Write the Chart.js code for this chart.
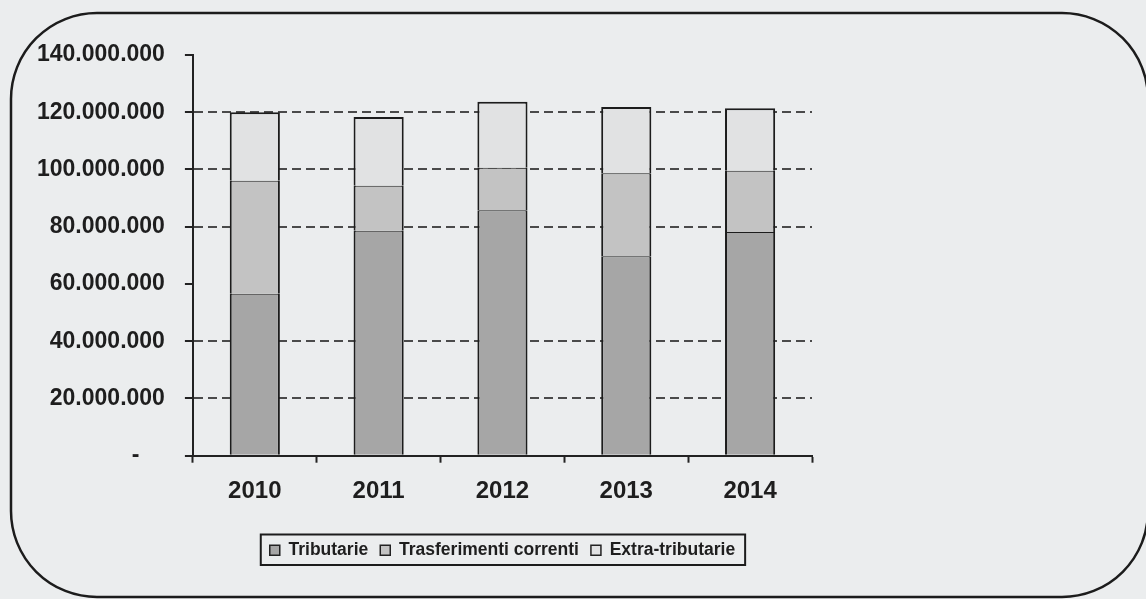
<!DOCTYPE html>
<html>
<head>
<meta charset="utf-8">
<script src="https://cdn.jsdelivr.net/npm/chart.js@4"></script>
<style>
  html, body { margin: 0; padding: 0; background: #ebedee; }
  #wrap { width: 1146px; height: 599px; }
</style>
</head>
<body>
<div id="wrap"><canvas id="chart" width="1146" height="599"></canvas></div>
<script>
const anni = ["2010", "2011", "2012", "2013", "2014"];
const tributarie = [56600000, 78600000, 85800000, 69700000, 78200000];
const trasferimenti = [39500000, 15700000, 14800000, 29000000, 21400000];
const extraTributarie = [23900000, 24000000, 23100000, 23100000, 21800000];
const yTickLabels = ["-    ", "20.000.000", "40.000.000", "60.000.000", "80.000.000", "100.000.000", "120.000.000", "140.000.000"];

const FONT = "'Liberation Sans', Arial, sans-serif";
Chart.defaults.font.family = FONT;

// cornice arrotondata attorno al grafico
const cornice = {
  id: "cornice",
  beforeDraw(chart) {
    const c = chart.ctx;
    c.save();
    c.strokeStyle = "#1c1c1c";
    c.lineWidth = 2.5;
    c.beginPath();
    c.roundRect(11, 13, 1137, 584, 86);
    c.stroke();
    c.restore();
  }
};

// bordo del riquadro legenda
const boxLegenda = {
  id: "boxLegenda",
  afterDraw(chart) {
    const hb = chart.legend.legendHitBoxes;
    if (!hb || !hb.length) return;
    const left = Math.min(...hb.map(h => h.left)) - 9;
    const right = Math.max(...hb.map(h => h.left + h.width)) + 10;
    const top = hb[0].top - 7;
    const bottom = hb[0].top + hb[0].height + 6;
    const c = chart.ctx;
    c.save();
    c.strokeStyle = "#1c1c1c";
    c.lineWidth = 2;
    c.strokeRect(left, top, right - left, bottom - top);
    c.restore();
  }
};

const bordo = "#1c1c1c";

new Chart(document.getElementById("chart"), {
  type: "bar",
  data: {
    labels: anni,
    datasets: [
      { label: "Tributarie", data: tributarie, backgroundColor: "#a6a6a6",
        borderColor: bordo, borderWidth: { left: 2, right: 2, top: 1, bottom: 0 } },
      { label: "Trasferimenti correnti", data: trasferimenti, backgroundColor: "#c3c3c3",
        borderColor: bordo, borderWidth: { left: 2, right: 2, top: 1, bottom: 0 } },
      { label: "Extra-tributarie", data: extraTributarie, backgroundColor: "#e1e2e3",
        borderColor: bordo, borderWidth: { left: 2, right: 2, top: 2, bottom: 0 } }
    ]
  },
  options: {
    responsive: false,
    animation: false,
    layout: { padding: { left: 17, right: 334, top: 55, bottom: 30 } },
    datasets: { bar: { barPercentage: 0.405, categoryPercentage: 1, borderSkipped: false } },
    scales: {
      x: {
        stacked: true,
        grid: { offset: true, drawOnChartArea: false, drawTicks: true, tickLength: 7, tickColor: "#222", tickWidth: 2 },
        border: { color: "#222", width: 2 },
        ticks: { color: "#1e1e1e", padding: 14, font: { size: 24, weight: "bold" } },
        afterFit: (scale) => { scale.height += 10; }
      },
      y: {
        stacked: true,
        min: 0,
        max: 140000000,
        grid: {
          color: (ctx) => {
            const v = ctx.tick ? ctx.tick.value : 0;
            return (v === 0 || v === 60000000 || v === 140000000) ? "rgba(0,0,0,0)" : "#4a4a4a";
          },
          lineWidth: 2,
          tickLength: 8,
          tickColor: "#222",
          tickWidth: 2,
          tickBorderDash: []
        },
        border: { color: "#222", width: 2, dash: [9, 5] },
        ticks: {
          stepSize: 20000000,
          color: "#1e1e1e",
          padding: 20,
          font: { size: 23, weight: "bold" },
          callback: (v) => yTickLabels[Math.round(v / 20000000)]
        }
      }
    },
    plugins: {
      tooltip: { enabled: false },
      legend: {
        position: "bottom",
        fullSize: false,
        labels: {
          boxWidth: 10,
          boxHeight: 10,
          padding: 12,
          color: "#1e1e1e",
          font: { size: 17.5, weight: "bold" },
          generateLabels: (chart) =>
            Chart.defaults.plugins.legend.labels.generateLabels(chart).map(l =>
              Object.assign(l, { lineWidth: 1.5, strokeStyle: "#222" }))
        }
      }
    }
  },
  plugins: [cornice, boxLegenda]
});
</script>
</body>
</html>
